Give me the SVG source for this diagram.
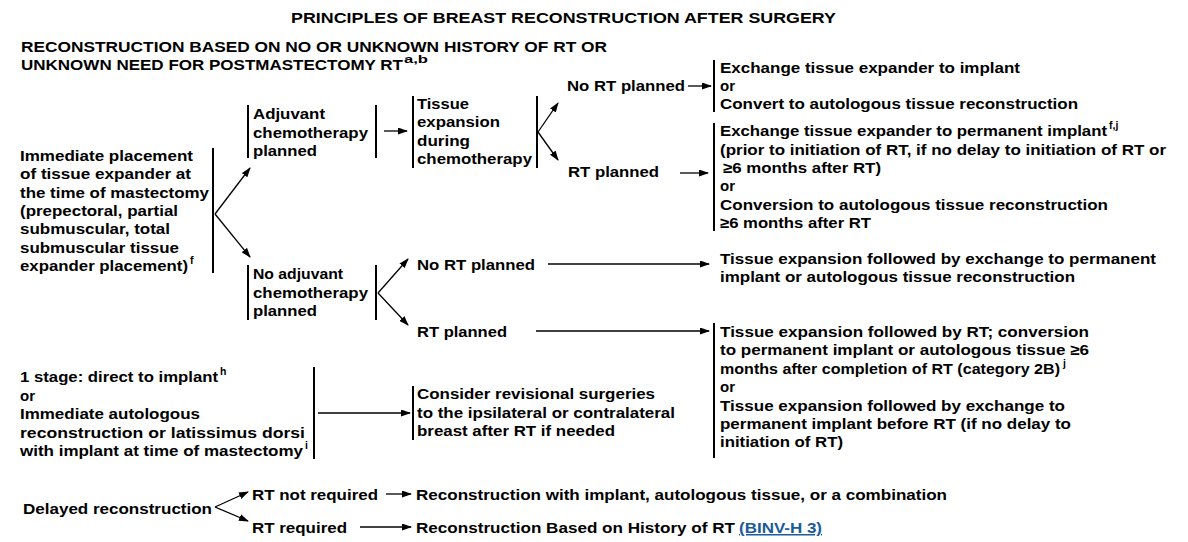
<svg xmlns="http://www.w3.org/2000/svg" width="1188" height="542" viewBox="0 0 1188 542">
<defs>
<style>
text{font-family:"Liberation Sans",Arial,sans-serif;font-weight:bold;font-size:15px;fill:#000}
.t{font-size:15.5px}
.sup{font-size:10.5px}
.bar{stroke:#000;stroke-width:2;fill:none}
.c{stroke:#000;stroke-width:1.3;fill:none;marker-end:url(#ah)}
.lnk{fill:#1a5b9c;text-decoration:underline}
</style>
<marker id="ah" markerUnits="userSpaceOnUse" markerWidth="10" markerHeight="7" refX="9" refY="3.5" orient="auto">
<path d="M0,0 L10,3.5 L0,7 z" fill="#000"/>
</marker>
</defs>
<rect width="1188" height="542" fill="#fff"/>

<g id="title">
<text class="t" x="291" y="23" textLength="545" lengthAdjust="spacingAndGlyphs">PRINCIPLES OF BREAST RECONSTRUCTION AFTER SURGERY</text>
<text class="t" x="21" y="52" textLength="586" lengthAdjust="spacingAndGlyphs">RECONSTRUCTION BASED ON NO OR UNKNOWN HISTORY OF RT OR</text>
<text class="t" x="21" y="70" textLength="382" lengthAdjust="spacingAndGlyphs">UNKNOWN NEED FOR POSTMASTECTOMY RT</text>
<text class="sup" x="404" y="63" textLength="24" lengthAdjust="spacingAndGlyphs">a,b</text>
</g>

<g id="immediate-expander">
<text x="20" y="161" textLength="173" lengthAdjust="spacingAndGlyphs">Immediate placement</text>
<text x="20" y="179.3" textLength="171" lengthAdjust="spacingAndGlyphs">of tissue expander at</text>
<text x="20" y="197.6" textLength="189" lengthAdjust="spacingAndGlyphs">the time of mastectomy</text>
<text x="20" y="215.9" textLength="158" lengthAdjust="spacingAndGlyphs">(prepectoral, partial</text>
<text x="20" y="234.2" textLength="150" lengthAdjust="spacingAndGlyphs">submuscular, total</text>
<text x="20" y="252.5" textLength="159" lengthAdjust="spacingAndGlyphs">submuscular tissue</text>
<text x="20" y="270.8" textLength="168" lengthAdjust="spacingAndGlyphs">expander placement)</text>
<text class="sup" x="190" y="264">f</text>
<line class="bar" x1="213" y1="148" x2="213" y2="273"/>
</g>

<g id="adjuvant-chemo">
<line class="bar" x1="248" y1="105" x2="248" y2="158"/>
<text x="253" y="119" textLength="72" lengthAdjust="spacingAndGlyphs">Adjuvant</text>
<text x="253" y="137.5" textLength="115" lengthAdjust="spacingAndGlyphs">chemotherapy</text>
<text x="253" y="156" textLength="64" lengthAdjust="spacingAndGlyphs">planned</text>
<line class="bar" x1="376" y1="105" x2="376" y2="158"/>
</g>

<g id="tissue-expansion-chemo">
<line class="bar" x1="413" y1="96" x2="413" y2="168"/>
<text x="417" y="108.5" textLength="52" lengthAdjust="spacingAndGlyphs">Tissue</text>
<text x="417" y="127" textLength="83" lengthAdjust="spacingAndGlyphs">expansion</text>
<text x="417" y="145.5" textLength="53" lengthAdjust="spacingAndGlyphs">during</text>
<text x="417" y="164" textLength="115" lengthAdjust="spacingAndGlyphs">chemotherapy</text>
<line class="bar" x1="537" y1="96" x2="537" y2="168"/>
</g>

<g id="no-rt-planned-1">
<text x="567" y="91" textLength="118" lengthAdjust="spacingAndGlyphs">No RT planned</text>
</g>

<g id="rt-planned-1">
<text x="568" y="177" textLength="91" lengthAdjust="spacingAndGlyphs">RT planned</text>
</g>

<g id="exchange-implant">
<line class="bar" x1="714" y1="60" x2="714" y2="112"/>
<text x="720" y="73" textLength="300" lengthAdjust="spacingAndGlyphs">Exchange tissue expander to implant</text>
<text x="720" y="91">or</text>
<text x="720" y="109" textLength="358" lengthAdjust="spacingAndGlyphs">Convert to autologous tissue reconstruction</text>
</g>

<g id="exchange-permanent">
<line class="bar" x1="714" y1="123" x2="714" y2="231"/>
<text x="720" y="136" textLength="387" lengthAdjust="spacingAndGlyphs">Exchange tissue expander to permanent implant</text>
<text class="sup" x="1109" y="129">f,j</text>
<text x="720" y="154.5" textLength="446" lengthAdjust="spacingAndGlyphs">(prior to initiation of RT, if no delay to initiation of RT or</text>
<text x="723" y="173" textLength="158" lengthAdjust="spacingAndGlyphs">≥6 months after RT)</text>
<text x="720" y="191">or</text>
<text x="720" y="210" textLength="388" lengthAdjust="spacingAndGlyphs">Conversion to autologous tissue reconstruction</text>
<text x="720" y="228" textLength="151" lengthAdjust="spacingAndGlyphs">≥6 months after RT</text>
</g>

<g id="no-adjuvant-chemo">
<line class="bar" x1="248" y1="265" x2="248" y2="320"/>
<text x="253" y="279" textLength="90" lengthAdjust="spacingAndGlyphs">No adjuvant</text>
<text x="253" y="297.5" textLength="115" lengthAdjust="spacingAndGlyphs">chemotherapy</text>
<text x="253" y="316" textLength="64" lengthAdjust="spacingAndGlyphs">planned</text>
<line class="bar" x1="376" y1="265" x2="376" y2="320"/>
</g>

<g id="no-rt-planned-2">
<text x="417" y="270" textLength="118" lengthAdjust="spacingAndGlyphs">No RT planned</text>
</g>

<g id="rt-planned-2">
<text x="417" y="337" textLength="90" lengthAdjust="spacingAndGlyphs">RT planned</text>
</g>

<g id="expansion-exchange">
<text x="720" y="264" textLength="436" lengthAdjust="spacingAndGlyphs">Tissue expansion followed by exchange to permanent</text>
<text x="720" y="282" textLength="355" lengthAdjust="spacingAndGlyphs">implant or autologous tissue reconstruction</text>
</g>

<g id="expansion-rt">
<line class="bar" x1="714" y1="323" x2="714" y2="458"/>
<text x="720" y="337" textLength="369" lengthAdjust="spacingAndGlyphs">Tissue expansion followed by RT; conversion</text>
<text x="720" y="355.4" textLength="369" lengthAdjust="spacingAndGlyphs">to permanent implant or autologous tissue ≥6</text>
<text x="720" y="373.8" textLength="340" lengthAdjust="spacingAndGlyphs">months after completion of RT (category 2B)</text>
<text class="sup" x="1063" y="367">j</text>
<text x="720" y="392.2">or</text>
<text x="720" y="410.6" textLength="345" lengthAdjust="spacingAndGlyphs">Tissue expansion followed by exchange to</text>
<text x="720" y="429" textLength="351" lengthAdjust="spacingAndGlyphs">permanent implant before RT (if no delay to</text>
<text x="720" y="447.4" textLength="123" lengthAdjust="spacingAndGlyphs">initiation of RT)</text>
</g>

<g id="one-stage">
<text x="20" y="382" textLength="198" lengthAdjust="spacingAndGlyphs">1 stage: direct to implant</text>
<text class="sup" x="220" y="375">h</text>
<text x="20" y="400.5">or</text>
<text x="20" y="419" textLength="180" lengthAdjust="spacingAndGlyphs">Immediate autologous</text>
<text x="20" y="437.5" textLength="285" lengthAdjust="spacingAndGlyphs">reconstruction or latissimus dorsi</text>
<text x="20" y="456" textLength="283" lengthAdjust="spacingAndGlyphs">with implant at time of mastectomy</text>
<text class="sup" x="305" y="449">i</text>
<line class="bar" x1="314" y1="367" x2="314" y2="459"/>
</g>

<g id="revisional">
<line class="bar" x1="413" y1="386" x2="413" y2="440"/>
<text x="417" y="399" textLength="238" lengthAdjust="spacingAndGlyphs">Consider revisional surgeries</text>
<text x="417" y="417.5" textLength="258" lengthAdjust="spacingAndGlyphs">to the ipsilateral or contralateral</text>
<text x="417" y="436" textLength="198" lengthAdjust="spacingAndGlyphs">breast after RT if needed</text>
</g>

<g id="delayed">
<text x="23" y="514" textLength="189" lengthAdjust="spacingAndGlyphs">Delayed reconstruction</text>
</g>
<g id="rt-not-required">
<text x="252" y="500" textLength="126" lengthAdjust="spacingAndGlyphs">RT not required</text>
</g>
<g id="rt-required">
<text x="252" y="533" textLength="95" lengthAdjust="spacingAndGlyphs">RT required</text>
</g>
<g id="recon-combination">
<text x="416" y="500" textLength="531" lengthAdjust="spacingAndGlyphs">Reconstruction with implant, autologous tissue, or a combination</text>
</g>
<g id="recon-history">
<text x="416" y="533" textLength="319" lengthAdjust="spacingAndGlyphs">Reconstruction Based on History of RT</text>
<text class="lnk" x="739" y="533" textLength="83" lengthAdjust="spacingAndGlyphs">(BINV-H 3)</text>
</g>

<g id="connectors">
<line class="c" x1="215" y1="214" x2="250" y2="168"/>
<line class="c" x1="215" y1="214" x2="250" y2="257"/>
<line class="c" x1="384" y1="131" x2="407" y2="131"/>
<line class="c" x1="538" y1="132" x2="558" y2="103"/>
<line class="c" x1="538" y1="132" x2="558" y2="160"/>
<line class="c" x1="688" y1="86" x2="711" y2="86"/>
<line class="c" x1="680" y1="173" x2="708" y2="173"/>
<line class="c" x1="378" y1="293" x2="408" y2="259"/>
<line class="c" x1="378" y1="293" x2="408" y2="325"/>
<line class="c" x1="548" y1="264" x2="709" y2="264"/>
<line class="c" x1="536" y1="331" x2="709" y2="331"/>
<line class="c" x1="318" y1="413" x2="410" y2="413"/>
<line class="c" x1="215" y1="507" x2="248" y2="492"/>
<line class="c" x1="215" y1="507" x2="248" y2="521"/>
<line class="c" x1="386" y1="494" x2="411" y2="494"/>
<line class="c" x1="360" y1="527" x2="411" y2="527"/>
</g>
</svg>
